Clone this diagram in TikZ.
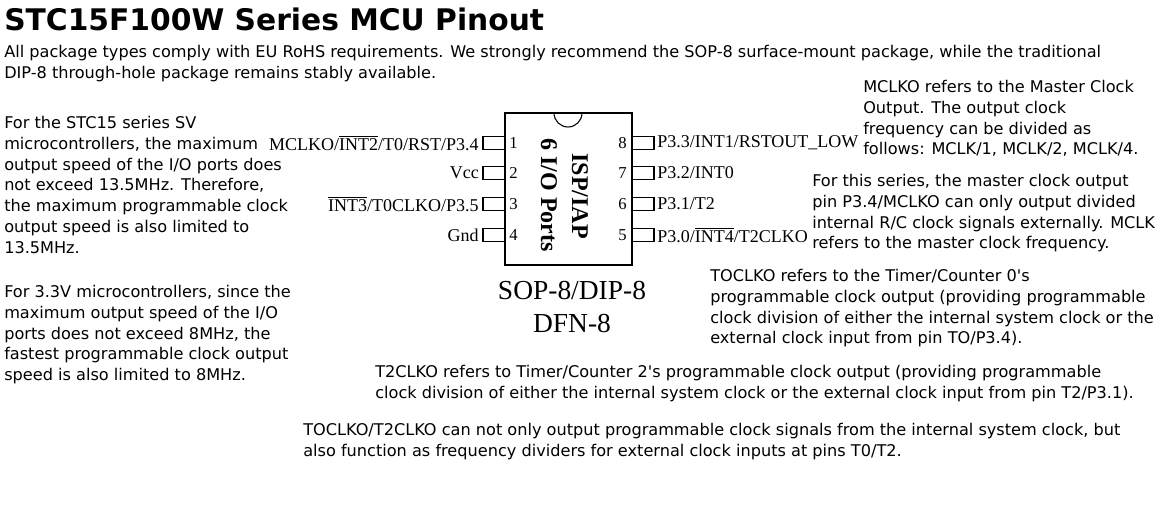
\documentclass[tikz,border=0pt]{standalone}
\usepackage{fontspec}
\setmainfont{Liberation Serif}
\newfontfamily\dejavu{DejaVu Sans}
\newcommand{\ovl}[1]{$\overline{\hbox{#1}}$}
\tikzset{
  para/.style={anchor=north west, inner sep=0pt, align=left, font=\dejavu\fontsize{12.1}{15.6}\selectfont},
  pinlabel/.style={inner sep=0pt, font=\fontsize{13.5}{16}\selectfont},
  pinnum/.style={inner sep=0pt, font=\fontsize{12.5}{14}\selectfont},
  pinbox/.style={draw, thick, minimum width=16.5pt, minimum height=10pt, inner sep=0pt},
}
\begin{document}
\begin{tikzpicture}[x=0.75pt,y=-0.75pt]
        \useasboundingbox (0,0) rectangle (1155,521);

        % title and intro
        \node[anchor=base west, inner sep=0pt, font=\dejavu\bfseries\fontsize{22.3}{24}\selectfont] (title) at (4,30) {STC15F100W Series MCU Pinout};
        \node[para] (intro) at (4,45) {All package types comply with EU RoHS requirements. We strongly recommend the SOP-8 surface-mount package, while the traditional\\DIP-8 through-hole package remains stably available.};

        % left notes
        \node[para] (sv) at (4,116) {For the STC15 series SV\\microcontrollers, the maximum\\output speed of the I/O ports does\\not exceed 13.5MHz. Therefore,\\the maximum programmable clock\\output speed is also limited to\\13.5MHz.};
        \node[para] (lv) at (4,285) {For 3.3V microcontrollers, since the\\maximum output speed of the I/O\\ports does not exceed 8MHz, the\\fastest programmable clock output\\speed is also limited to 8MHz.};

        % chip body
        \draw[thick] (505,113) rectangle (632,265);
        \draw[thick] (554,113) arc[start angle=180, end angle=0, radius=14];
        \node[rotate=-90, font=\fontsize{18}{20}\selectfont\bfseries, inner sep=0pt] (isp) at (580,196) {ISP/IAP};
        \node[rotate=-90, font=\fontsize{18}{20}\selectfont\bfseries, inner sep=0pt] (ports) at (549,195) {6 I/O Ports};

        % left pins
        \foreach \n/\y/\txt in {1/143/{MCLKO/\ovl{INT2}/T0/RST/P3.4}, 2/173/{Vcc}, 3/204/{\ovl{INT3}/T0CLKO/P3.5}, 4/235/{Gnd}} {
          \node[pinbox] (pin\n) at (494,\y) {};
          \node[pinnum, anchor=west] (num\n) at (509,\y) {\n};
          \node[pinlabel, anchor=east] (lab\n) at (479,\y) {\txt};
        }

        % right pins
        \foreach \n/\y/\txt in {8/143/{P3.3/INT1/RSTOUT\_LOW}, 7/173/{P3.2/INT0}, 6/204/{P3.1/T2}, 5/235/{P3.0/\ovl{INT4}/T2CLKO}} {
          \node[pinbox] (pin\n) at (643,\y) {};
          \node[pinnum, anchor=east] (num\n) at (627,\y) {\n};
          \node[pinlabel, anchor=west] (lab\n) at (657,\y) {\txt};
        }

        % package names
        \node[font=\fontsize{20.6}{22}\selectfont, inner sep=0pt] (pkg) at (572,290) {SOP-8/DIP-8};
        \node[font=\fontsize{20.6}{22}\selectfont, inner sep=0pt] (dfn) at (572,323) {DFN-8};

        % right notes
        \node[para] (mclko) at (863,80) {MCLKO refers to the Master Clock\\Output. The output clock\\frequency can be divided as\\follows: MCLK/1, MCLK/2, MCLK/4.};
        \node[para] (series) at (812,174) {For this series, the master clock output\\pin P3.4/MCLKO can only output divided\\internal R/C clock signals externally. MCLK\\refers to the master clock frequency.};
        \node[para] (t0) at (710,269) {TOCLKO refers to the Timer/Counter 0's\\programmable clock output (providing programmable\\clock division of either the internal system clock or the\\external clock input from pin TO/P3.4).};

        % bottom notes
        \node[para] (t2) at (375,365) {T2CLKO refers to Timer/Counter 2's programmable clock output (providing programmable\\clock division of either the internal system clock or the external clock input from pin T2/P3.1).};
        \node[para] (both) at (303,423) {TOCLKO/T2CLKO can not only output programmable clock signals from the internal system clock, but\\also function as frequency dividers for external clock inputs at pins T0/T2.};
    \end{tikzpicture}
\end{document}
